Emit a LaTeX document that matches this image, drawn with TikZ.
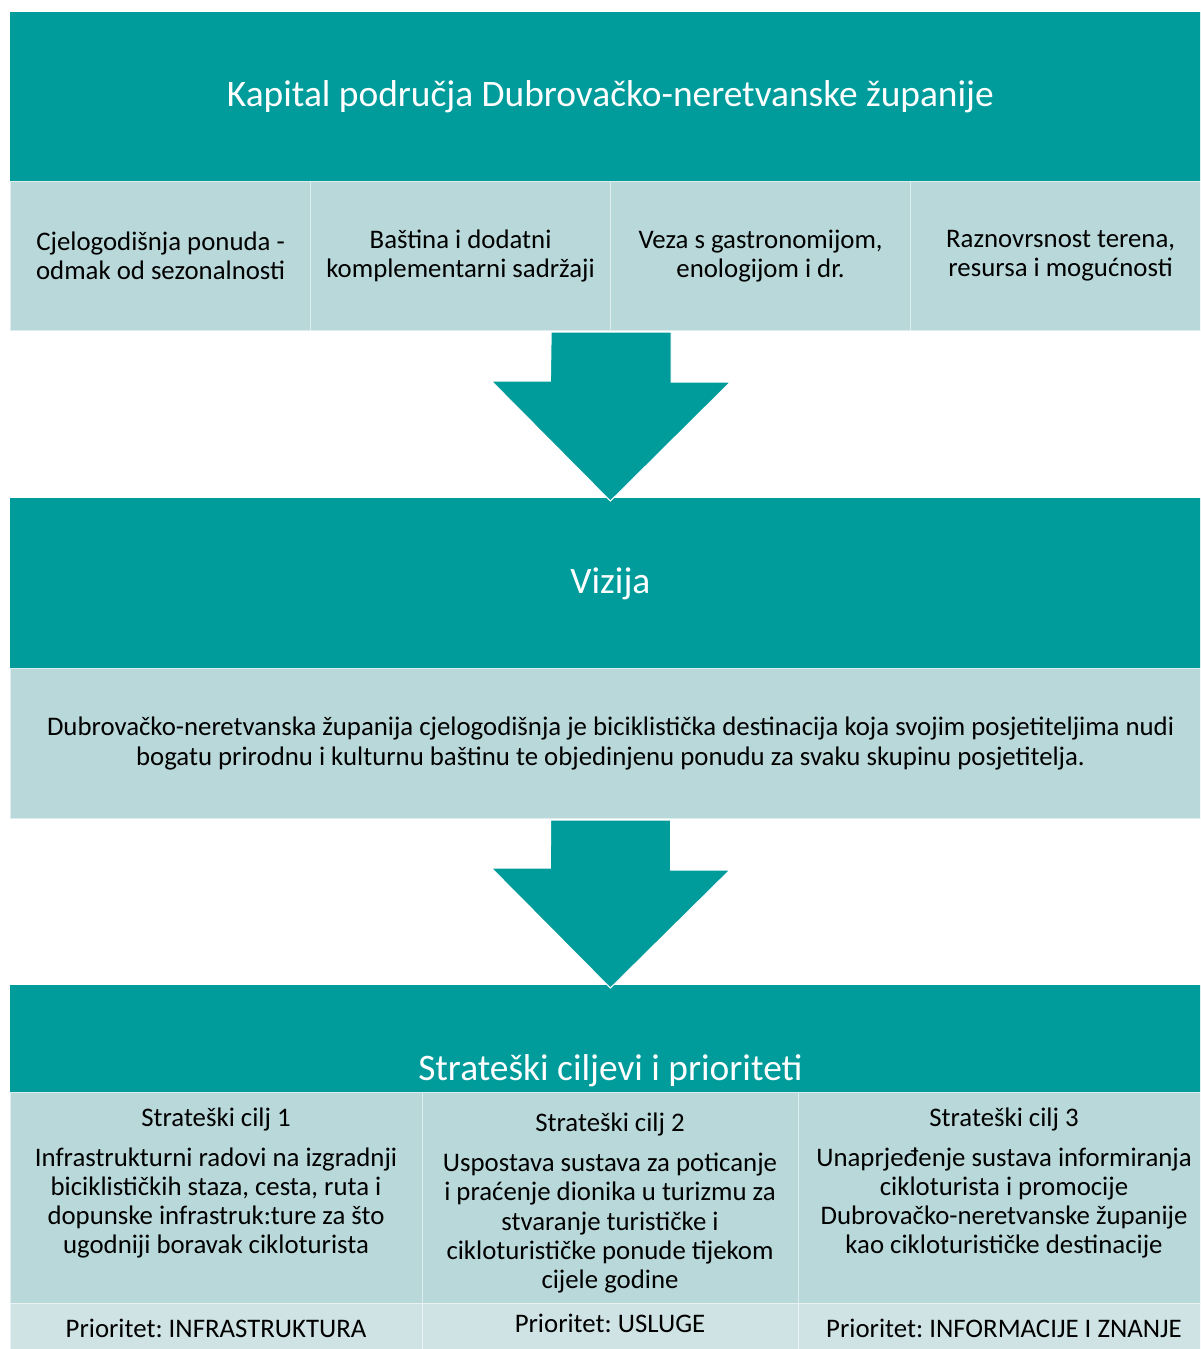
\documentclass[tikz,border=0pt]{standalone}
\usepackage{fontspec}
\setmainfont{Carlito}
\usetikzlibrary{calc}
\definecolor{tirkiz}{RGB}{0,155,155}
\definecolor{svijetla}{RGB}{185,216,218}
\definecolor{blijeda}{RGB}{208,227,228}
\frenchspacing

\begin{document}
\begin{tikzpicture}[x=0.5pt,y=-0.5pt,
  glava/.style={fill=tirkiz,inner sep=0pt,anchor=north west},
  naslov/.style={text=white,inner sep=0pt,font=\fontsize{18.7}{22}\selectfont},
  celija/.style={fill=svijetla,draw=white!55!svijetla,line width=0.6pt,inner sep=0pt,
    anchor=north west,align=center,font=\fontsize{13.4}{14.6}\selectfont},
  prio/.style={celija,fill=blijeda,draw=white!55!blijeda},
  tekst/.style={inner sep=0pt,align=center,font=\fontsize{13.4}{14.6}\selectfont},
  strelica/.style={fill=tirkiz,draw=white,line width=0.5pt}]
\useasboundingbox (0,0) rectangle (1200,1349);
\clip (0,0) rectangle (1200,1349);

% kapital
\node[glava,minimum width=600pt,minimum height=84.5pt] (kapital) at (10,12) {};
\node[naslov] (kapnaslov) at (kapital.center) {Kapital područja Dubrovačko-neretvanske županije};
\node[celija,minimum width=150pt,minimum height=74.5pt] (c1) at (10,181) {Cjelogodišnja ponuda -\\odmak od sezonalnosti};
\node[celija,minimum width=150pt,minimum height=74.5pt] (c2) at (310,181) {Baština i dodatni\\komplementarni sadržaji};
\node[celija,minimum width=150pt,minimum height=74.5pt] (c3) at (610,181) {Veza s gastronomijom,\\enologijom i dr.};
\node[celija,minimum width=150pt,minimum height=74.5pt] (c4) at (910,181) {Raznovrsnost terena,\\resursa i mogućnosti};

% vizija
\node[glava,minimum width=600pt,minimum height=85pt] (vizija) at (10,498) {};
\node[naslov] (viznaslov) at (vizija.center) {Vizija};
\node[celija,minimum width=600pt,minimum height=75pt] (vtekst) at (10,668) {Dubrovačko-neretvanska županija cjelogodišnja je biciklistička destinacija koja svojim posjetiteljima nudi\\[0.5pt]bogatu prirodnu i kulturnu baštinu te objedinjenu ponudu za svaku skupinu posjetitelja.};

% ciljevi
\node[glava,minimum width=600pt,minimum height=53.5pt] (strat) at (10,985) {};
\node[naslov] (stratnaslov) at ($(strat.south)+(0,-22)$) {Strateški ciljevi i prioriteti};
\node[celija,minimum width=206pt,minimum height=105.5pt] (g1) at (10,1092) {};
\node[celija,minimum width=188pt,minimum height=105.5pt] (g2) at (422,1092) {};
\node[celija,minimum width=206pt,minimum height=105.5pt] (g3) at (798,1092) {};
\node[prio,minimum width=206pt,minimum height=28pt] (p1) at (10,1303) {};
\node[prio,minimum width=188pt,minimum height=28pt] (p2) at (422,1303) {};
\node[prio,minimum width=206pt,minimum height=28pt] (p3) at (798,1303) {};
\node[tekst] (g1t) at (216,1183) {Strateški cilj 1\\[5.5pt]Infrastrukturni radovi na izgradnji\\biciklističkih staza, cesta, ruta i\\dopunske infrastruk:ture za što\\ugodniji boravak cikloturista};
\node[tekst] (g2t) at (610,1203) {Strateški cilj 2\\[5.5pt]Uspostava sustava za poticanje\\i praćenje dionika u turizmu za\\stvaranje turističke i\\cikloturističke ponude tijekom\\cijele godine};
\node[tekst] (g3t) at (1004,1183) {Strateški cilj 3\\[5.5pt]Unaprjeđenje sustava informiranja\\cikloturista i promocije\\Dubrovačko-neretvanske županije\\kao cikloturističke destinacije};
\node[tekst] (p1t) at (216,1328) {Prioritet: INFRASTRUKTURA};
\node[tekst] (p2t) at (610,1323) {Prioritet: USLUGE};
\node[tekst] (p3t) at (1004,1328) {Prioritet: INFORMACIJE I ZNANJE};

% strelice
\fill[strelica] ($(c2.south east)+(-60,1)$) -- ++(120,0) -- ++(0,50) -- ++(59,0)
  -- ($(vizija.north)+(0,3)$) -- ++(-119,-120) -- ++(59,0) -- cycle;
\fill[strelica] ($(vtekst.south)+(-60,1)$) -- ++(120,0) -- ++(0,50) -- ++(59,0)
  -- ($(strat.north)+(0,3)$) -- ++(-119,-120) -- ++(59,0) -- cycle;
\end{tikzpicture}
\end{document}
